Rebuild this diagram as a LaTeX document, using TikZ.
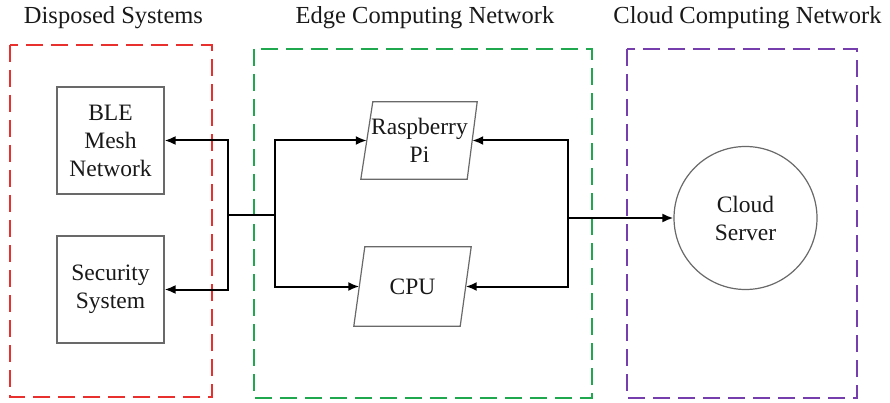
\documentclass[tikz,border=0pt]{standalone}
\usepackage{fontspec}
\setmainfont{Liberation Serif}
\usetikzlibrary{arrows.meta,shapes.geometric}
\definecolor{zoneRed}{RGB}{232,48,46}
\definecolor{zoneGreen}{RGB}{32,168,78}
\definecolor{zonePurple}{RGB}{118,62,172}
\definecolor{boxGray}{RGB}{105,105,105}
\definecolor{inkText}{RGB}{25,25,25}
\tikzset{
  zone/.style={line width=2.2pt, dash pattern=on 17pt off 8pt},
  title/.style={font=\fontsize{24.5}{29}\selectfont, text=inkText, anchor=center},
  unit/.style={draw=boxGray, line width=1.2pt, minimum width=107pt, minimum height=107pt,
    align=center, inner sep=0pt, font=\fontsize{23.5}{28}\selectfont, text=inkText},
  slanted/.style={inner sep=0pt, align=center, font=\fontsize{23.5}{28}\selectfont, text=inkText},
  server/.style={circle, draw=boxGray, line width=1.2pt, minimum size=143pt, inner sep=0pt,
    align=center, font=\fontsize{23.5}{28}\selectfont, text=inkText},
  link/.style={line width=2pt, black},
  feed/.style={link, -{Latex[length=11pt,width=9pt]}}
}
\begin{document}
\begin{tikzpicture}[x=1pt,y=-1pt]
  \useasboundingbox (0,0) rectangle (890,403);
  \fill[white] (0,0) rectangle (890,403);

  % zone frames and headings
  \draw[zone, zoneRed]    (10,45)  rectangle (212,397);
  \draw[zone, zoneGreen]  (254,49) rectangle (592,398);
  \draw[zone, zonePurple] (627,49) rectangle (857,398);
  \node[title] (tDisp)  at (113.5,18) {Disposed Systems};
  \node[title] (tEdge)  at (425,18)   {Edge Computing Network};
  \node[title] (tCloud) at (747.5,18) {Cloud Computing Network};

  % disposed systems
  \node[unit] (ble) at (110.5,140.5) {BLE\\Mesh\\Network};
  \node[unit] (sec) at (110.5,289.5) {Security\\System};

  % edge devices (parallelograms around text nodes)
  \node[slanted, minimum width=105pt, minimum height=77pt] (rpi) at (419.5,140.5) {Raspberry\\Pi};
  \draw[draw=boxGray, line width=1.2pt]
    ([xshift=6pt]rpi.north west) -- ([xshift=5pt]rpi.north east)
    -- ([xshift=-5pt]rpi.south east) -- ([xshift=-6pt]rpi.south west) -- cycle;
  \node[slanted, minimum width=106pt, minimum height=79pt] (cpu) at (412.5,286.5) {CPU};
  \draw[draw=boxGray, line width=1.2pt]
    ([xshift=5.5pt]cpu.north west) -- ([xshift=5.5pt]cpu.north east)
    -- ([xshift=-5.5pt]cpu.south east) -- ([xshift=-5.5pt]cpu.south west) -- cycle;

  % cloud
  \node[server] (cloud) at (745.5,218) {Cloud\\Server};

  % bus junctions
  \coordinate (busA) at (228,215);
  \coordinate (busB) at (275,215);
  \coordinate (busC) at (568,218);

  % connectors
  \draw[link] (busA) -- (busB);
  \draw[feed] (busA) |- (ble.east);
  \draw[feed] (busA) |- (sec.east);
  \draw[feed] (busB) |- (rpi.west);
  \draw[feed] (busB) |- (cpu.west);
  \draw[feed] (busC) |- (rpi.east);
  \draw[feed] (busC) |- (cpu.east);
  \draw[feed] (busC) -- (cloud.west);
\end{tikzpicture}
\end{document}
